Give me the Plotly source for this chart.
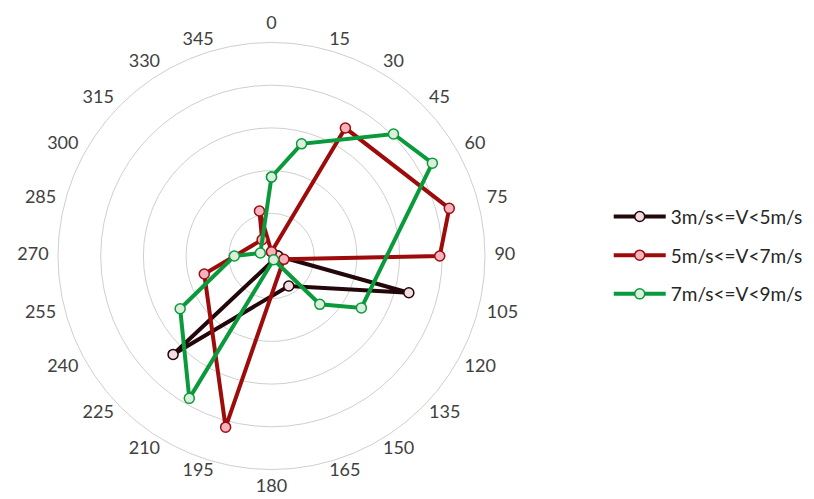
import plotly.graph_objects as go

# wind directions (degrees) and their tick labels
directions = [0, 15, 30, 45, 60, 75, 90, 105, 120, 135, 150, 165,
              180, 195, 210, 225, 240, 255, 270, 285, 300, 315, 330, 345]
direction_labels = [str(d) for d in directions]

# series values per direction (None = no data, line connects across)
series_names = ["3m/s<=V<5m/s", "5m/s<=V<7m/s", "7m/s<=V<9m/s"]

v3_5 = [None, None, None, None, None, None, 0.15, 3.33, None, None, 0.81, None,
        None, None, None, 3.26, None, None, None, None, None, None, None, None]

v5_7 = [0.10, None, 3.46, None, None, 4.31, 3.94, 0.30, None, None, None, None,
        None, 4.15, None, None, None, 1.63, None, None, None, None, 0.44, 1.09]

v7_9 = [1.85, 2.72, None, 4.04, 4.35, None, None, None, 2.43, 1.60, 0.10, None,
        None, None, 3.85, None, 2.47, None, 0.87, 0.27, None, None, None, None]

ring_values = [1, 2, 3, 4, 5]
LABEL_R = 5.22
AXIS_MAX = 5.6

line_colors = ["#24070a", "#9e0b0b", "#0a9a3c"]
marker_fills = ["#f3dde2", "#f4b3bf", "#dcefdc"]

fig = go.Figure()
for name, vals, lc, mf in zip(series_names, [v3_5, v5_7, v7_9], line_colors, marker_fills):
    th = [d for d, v in zip(directions, vals) if v is not None]
    rr = [v for v in vals if v is not None]
    th = th + th[:1]
    rr = rr + rr[:1]
    fig.add_trace(go.Scatterpolar(
        r=rr, theta=th, mode="lines+markers", name=name,
        line=dict(color=lc, width=4),
        marker=dict(size=10, color=mf, line=dict(color=lc, width=1.5)),
        legendgroup=name,
    ))


def label_pos(d):
    if d == 0:
        return "top center"
    if d == 180:
        return "bottom center"
    return "middle right" if d < 180 else "middle left"


# direction labels placed just outside the outer ring (Excel style)
fig.add_trace(go.Scatterpolar(
    r=[LABEL_R] * len(directions), theta=directions, mode="text",
    text=direction_labels, textposition=[label_pos(d) for d in directions],
    textfont=dict(family="Lato, Open Sans, sans-serif", size=18, color="#404040"),
    showlegend=False, hoverinfo="skip", cliponaxis=False,
))

unit = 42.7
cx, cy = 263.5, 248
R = AXIS_MAX * unit
W, H = 814, 499
fig.update_layout(
    width=W, height=H,
    margin=dict(l=0, r=0, t=0, b=0),
    paper_bgcolor="white",
    plot_bgcolor="white",
    font=dict(family="Lato, Open Sans, sans-serif", size=18, color="#404040"),
    polar=dict(
        domain=dict(x=[(cx - R) / W, (cx + R) / W],
                    y=[(H - cy - R) / H, (H - cy + R) / H]),
        bgcolor="rgba(0,0,0,0)",
        gridshape="linear",
        radialaxis=dict(range=[0, AXIS_MAX], tickmode="array", tickvals=ring_values,
                        showticklabels=False, ticks="",
                        showline=False, gridcolor="#cfcfcf", gridwidth=1),
        angularaxis=dict(rotation=90, direction="clockwise",
                         tickmode="array", tickvals=directions,
                         showticklabels=False,
                         showgrid=False, showline=False, ticks=""),
    ),
    showlegend=True,
    legend=dict(x=0.738, y=0.62, xanchor="left", yanchor="top",
                traceorder="grouped", tracegroupgap=11, itemwidth=52,
                font=dict(size=19, color="#262626"), bgcolor="rgba(0,0,0,0)"),
)

fig.write_html("out.html")
